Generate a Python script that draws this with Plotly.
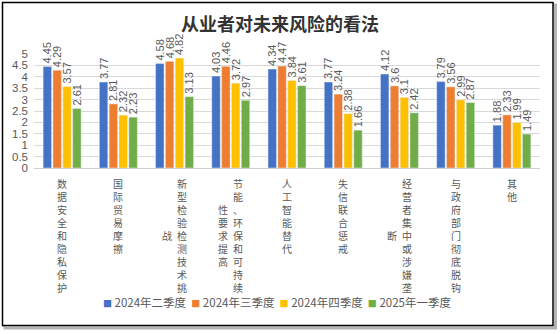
import plotly.graph_objects as go

categories = ["数据安全和隐私保护", "国际贸易摩擦", "新型检验检测技术挑战",
              "节能、环保和可持续性要求提高", "人工智能替代", "失信联合惩戒",
              "经营者集中或涉嫌垄断", "与政府部门彻底脱钩", "其他"]
series_names = ["2024年二季度", "2024年三季度", "2024年四季度", "2025年一季度"]
q2_2024 = [4.45, 3.77, 4.58, 4.03, 4.34, 3.77, 4.12, 3.79, 1.88]
q3_2024 = [4.29, 2.81, 4.68, 4.46, 4.47, 3.24, 3.6, 3.56, 2.33]
q4_2024 = [3.57, 2.32, 4.82, 3.72, 3.84, 2.38, 3.1, 2.99, 1.99]
q1_2025 = [2.61, 2.23, 3.13, 2.97, 3.61, 1.66, 2.42, 2.87, 1.49]
colors = ["#4472C4", "#ED7D31", "#FFC000", "#70AD47"]
title = "从业者对未来风险的看法"

W, H = 560, 334
L, R, T, B = 34, 20, 54, 166
PW = W - L - R
PH = H - T - B
Y0 = H - B  # pixel of value 0


def px_x(p):
    return (p - L) / PW


def px_y(p):
    return (Y0 - p) / PH


fig = go.Figure()
for name, vals, c in zip(series_names, [q2_2024, q3_2024, q4_2024, q1_2025], colors):
    fig.add_trace(go.Bar(
        x=categories, y=vals, name=name, marker_color=c,
        text=[f"{v:g}" for v in vals], textposition="outside", textangle=-90,
        textfont=dict(size=11, color="#595959", family="Liberation Sans, Arial"),
        cliponaxis=False, constraintext="none", showlegend=False,
    ))

# vertical category labels (Excel-style stacked characters, wrapped at 9 chars)
annotations = []
MAXC = 9
FS = 10
PITCH = FS * 1.3
TOP = 177
for cat in categories:
    cols = [cat[i:i + MAXC] for i in range(0, len(cat), MAXC)]
    n = len(cols)
    mid = TOP + len(cols[0]) * PITCH / 2
    for ci, col in enumerate(cols):
        xshift = (n - 1) * 7.5 - ci * 15
        annotations.append(dict(
            x=cat, xref="x", y=px_y(mid), yref="paper", text="<br>".join(col),
            showarrow=False, xanchor="center", yanchor="middle", xshift=xshift,
            borderpad=0, align="center",
            font=dict(size=FS, color="#595959", family="Noto Sans CJK SC"),
        ))

# legend row
legend_text = "  ".join(
    f"<span style='color:{c};font-size:9px'>■</span> {n}" for n, c in zip(series_names, colors)
)
annotations.append(dict(
    x=px_x(277), xref="paper", y=px_y(302), yref="paper", text=legend_text,
    showarrow=False, xanchor="center", yanchor="middle",
    font=dict(size=11.5, color="#595959", family="Noto Sans CJK SC"),
))

shapes = [
    dict(type="rect", xref="paper", yref="paper",
         x0=px_x(5), x1=px_x(555.5), y0=px_y(5), y1=px_y(328),
         line=dict(color="#b4b4b4", width=3), layer="below"),
    dict(type="rect", xref="paper", yref="paper",
         x0=px_x(2.5), x1=px_x(553), y0=px_y(2.5), y1=px_y(325.5),
         line=dict(color="#000000", width=1.5), fillcolor="white", layer="below"),
]

fig.update_layout(
    width=W, height=H,
    margin=dict(l=L, r=R, t=T, b=B),
    paper_bgcolor="white", plot_bgcolor="white",
    title=dict(text="<b>" + title + "</b>", x=0.5, xref="container", xanchor="center",
               y=1 - 25 / H, yref="container", yanchor="middle",
               font=dict(size=18, color="#333333", family="Noto Sans CJK SC")),
    barmode="group", bargap=0.3, bargroupgap=0.14,
    showlegend=False,
    xaxis=dict(showticklabels=False, showgrid=False, showline=True, linecolor="#d0d0d0",
               linewidth=1, ticks=""),
    yaxis=dict(range=[0, 5], dtick=0.5, showgrid=True, gridcolor="#d9d9d9", gridwidth=1,
               zeroline=False, showline=False, ticks="", ticklabelstandoff=5,
               tickfont=dict(size=11.5, color="#595959", family="Liberation Sans, Arial")),
    annotations=annotations,
    shapes=shapes,
)

fig.write_html("out.html")
